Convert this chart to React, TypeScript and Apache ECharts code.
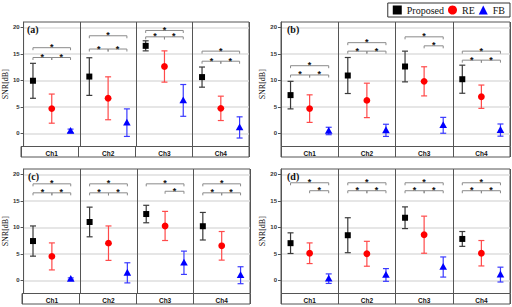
import React, { useEffect, useRef } from "react";
import * as echarts from "echarts";

const channels = ["Ch1", "Ch2", "Ch3", "Ch4"];
const panelLabels = ["(a)", "(b)", "(c)", "(d)"];
const seriesNames = ["Proposed", "RE", "FB"];
const yTicks = [0, 5, 10, 15, 20];

// per panel (a, b, c, d), per channel (Ch1..Ch4)
const proposedMean = [
  [9.9, 10.7, 16.5, 10.6],
  [7.2, 10.9, 12.6, 10.2],
  [7.4, 11.0, 12.5, 10.2],
  [7.0, 8.5, 11.8, 7.8],
];
const proposedErr = [
  [3.3, 3.55, 0.95, 1.9],
  [2.6, 3.4, 2.9, 2.65],
  [2.85, 2.8, 1.65, 2.6],
  [1.95, 3.3, 2.05, 1.4],
];
const reMean = [
  [4.65, 6.6, 12.6, 4.7],
  [4.65, 6.2, 9.8, 6.9],
  [4.5, 7.0, 10.25, 6.5],
  [5.1, 5.0, 8.6, 5.1],
];
const reErr = [
  [2.75, 4.05, 2.95, 2.3],
  [2.6, 3.25, 2.75, 2.2],
  [2.55, 3.25, 2.75, 2.7],
  [1.95, 2.35, 3.5, 2.4],
];
const fbMean = [
  [0.43, 2.0, 6.2, 1.1],
  [0.43, 0.55, 1.5, 0.6],
  [0.25, 1.4, 3.3, 0.95],
  [0.3, 1.0, 2.5, 1.07],
];
const fbErr = [
  [0.35, 2.6, 3.0, 2.0],
  [0.7, 1.15, 1.5, 1.15],
  [0.2, 1.9, 2.2, 1.6],
  [0.9, 1.2, 1.9, 1.4],
];
// significance brackets: [channel, level, fromSeries, toSeries]
const bracketsA = [
  [0, 16.15, 0, 2], [0, 14.3, 0, 1], [0, 14.3, 1, 2],
  [1, 18.4, 0, 2], [1, 15.9, 0, 1], [1, 15.9, 1, 2],
  [2, 19.4, 0, 2], [2, 18.2, 0, 1], [2, 18.2, 1, 2],
  [3, 15.5, 0, 2], [3, 13.6, 0, 1], [3, 13.6, 1, 2],
];
const bracketsB = [
  [0, 12.75, 0, 2], [0, 11.0, 0, 1], [0, 11.0, 1, 2],
  [1, 17.1, 0, 2], [1, 15.5, 0, 1], [1, 15.5, 1, 2],
  [2, 18.2, 0, 2], [2, 16.5, 1, 2],
  [3, 15.5, 0, 2], [3, 13.8, 0, 1], [3, 13.8, 1, 2],
];
const bracketsC = [
  [0, 18.2, 0, 2], [0, 16.5, 0, 1], [0, 16.5, 1, 2],
  [1, 18.2, 0, 2], [1, 16.5, 0, 1], [1, 16.5, 1, 2],
  [2, 18.2, 0, 2], [2, 16.8, 1, 2],
  [3, 18.2, 0, 2], [3, 16.5, 0, 1], [3, 16.5, 1, 2],
];
const bracketsD = [
  [0, 18.4, 0, 2], [0, 16.9, 1, 2],
  [1, 18.4, 0, 2], [1, 16.9, 0, 1], [1, 16.9, 1, 2],
  [2, 18.4, 0, 2], [2, 16.9, 0, 1], [2, 16.9, 1, 2],
  [3, 18.4, 0, 2], [3, 16.9, 0, 1], [3, 16.9, 1, 2],
];
const brackets = [bracketsA, bracketsB, bracketsC, bracketsD];

const Y_MIN = -2.5;
const Y_MAX = 21;
const panelBoxes = [
  { left: 21, top: 22, width: 228 },
  { left: 281, top: 22, width: 229 },
  { left: 22, top: 169, width: 228 },
  { left: 281, top: 169, width: 229 },
];
const DATA_H = 124.5;
const BAND_H = 10.5;

const markerColors = ["#000000", "#ff0000", "#0000ff"];
const barColors = ["#3a3a3a", "#ff4a4a", "#3a3aff"];
const slotOffsets = [-1 / 3, 0, 1 / 3];

function errRender(slot: number) {
  return (params: any, api: any) => {
    const idx = api.value(0);
    const m = api.value(1);
    const e = api.value(2);
    const c = api.coord([idx, m]);
    const bw = api.size([1, 0])[0];
    const x = c[0] + slotOffsets[slot] * bw;
    const y = c[1];
    const yt = api.coord([idx, m + e])[1];
    const yb = api.coord([idx, m - e])[1];
    const cap = 3;
    const ls = { stroke: barColors[slot], lineWidth: 1.2 };
    let marker: any;
    if (slot === 0) {
      marker = { type: "rect", shape: { x: x - 3, y: y - 3, width: 6, height: 6 }, style: { fill: markerColors[0] } };
    } else if (slot === 1) {
      marker = { type: "circle", shape: { cx: x, cy: y, r: 3.4 }, style: { fill: markerColors[1] } };
    } else {
      marker = {
        type: "polygon",
        shape: { points: [[x, y - 4], [x - 3.8, y + 2.8], [x + 3.8, y + 2.8]] },
        style: { fill: markerColors[2] },
      };
    }
    return {
      type: "group",
      children: [
        { type: "line", shape: { x1: x, y1: yt, x2: x, y2: yb }, style: ls },
        { type: "line", shape: { x1: x - cap, y1: yt, x2: x + cap, y2: yt }, style: ls },
        { type: "line", shape: { x1: x - cap, y1: yb, x2: x + cap, y2: yb }, style: ls },
        marker,
      ],
    };
  };
}

function bracketRender(params: any, api: any) {
  const ch = api.value(0);
  const lvl = api.value(1);
  const from = api.value(2);
  const to = api.value(3);
  const c = api.coord([ch, lvl]);
  const bw = api.size([1, 0])[0];
  const x1 = c[0] + slotOffsets[from] * bw;
  const x2 = c[0] + slotOffsets[to] * bw;
  const y = c[1];
  return {
    type: "group",
    children: [
      {
        type: "polyline",
        shape: { points: [[x1, y + 2.5], [x1, y], [x2, y], [x2, y + 2.5]] },
        style: { stroke: "#8a8a8a", lineWidth: 1, fill: null },
      },
      {
        type: "text",
        style: {
          text: "*",
          x: (x1 + x2) / 2,
          y: y - 0.5,
          align: "center",
          verticalAlign: "middle",
          fontSize: 9,
          fontWeight: "bold",
          fontFamily: "Liberation Sans",
          fill: "#111",
        },
      },
    ],
  };
}

export default function App() {
  const ref = useRef<HTMLDivElement>(null);
  useEffect(() => {
    document.body.style.margin = "0";
    const chart = echarts.init(ref.current!, null, { renderer: "svg" });
    const grids: any[] = [];
    const xAxes: any[] = [];
    const yAxes: any[] = [];
    const series: any[] = [];
    const titles: any[] = [];
    const means = [proposedMean, reMean, fbMean];
    const errs = [proposedErr, reErr, fbErr];

    panelBoxes.forEach((b, p) => {
      grids.push({ left: b.left, top: b.top, width: b.width, height: DATA_H, show: true, borderColor: "#555", borderWidth: 1 });
      grids.push({ left: b.left, top: b.top + DATA_H, width: b.width, height: BAND_H, show: true, borderColor: "#555", borderWidth: 1 });
      xAxes.push({
        type: "category",
        gridIndex: 2 * p,
        data: channels,
        boundaryGap: true,
        axisLine: { show: false },
        axisTick: { show: false },
        axisLabel: { show: true, interval: 0, margin: 3, fontSize: 6.5, fontWeight: "bold", color: "#111", fontFamily: "Liberation Sans" },
        splitLine: { show: true, interval: 0, lineStyle: { color: "#555", width: 1 } },
      });
      xAxes.push({
        type: "category",
        gridIndex: 2 * p + 1,
        data: channels,
        boundaryGap: true,
        axisLine: { show: false },
        axisTick: { show: false },
        axisLabel: { show: false },
        splitLine: { show: true, interval: 0, lineStyle: { color: "#555", width: 1 } },
      });
      yAxes.push({
        type: "value",
        gridIndex: 2 * p,
        min: Y_MIN,
        max: Y_MAX,
        name: "SNR[dB]",
        nameLocation: "middle",
        nameGap: 11,
        nameTextStyle: { fontFamily: "Liberation Serif", fontSize: 8, color: "#111" },
        axisLine: { show: true, lineStyle: { color: "#555" } },
        axisTick: { show: true, length: 3, customValues: yTicks, lineStyle: { color: "#555" } },
        axisLabel: { show: true, customValues: yTicks, margin: 4, fontSize: 6, fontWeight: "bold", color: "#333", fontFamily: "Liberation Sans" },
        splitLine: { show: true, lineStyle: { color: "#dedede", width: 1.5 } },
      });
      yAxes.push({ type: "value", gridIndex: 2 * p + 1, min: 0, max: 1, show: false });

      for (let s = 0; s < 3; s++) {
        series.push({
          type: "custom",
          name: seriesNames[s],
          xAxisIndex: 2 * p,
          yAxisIndex: 2 * p,
          itemStyle: { color: markerColors[s] },
          renderItem: errRender(s),
          encode: { x: 0, y: 1 },
          data: channels.map((_, i) => [i, means[s][p][i], errs[s][p][i]]),
          z: 5 - s,
        });
      }
      series.push({
        type: "custom",
        name: "sig",
        xAxisIndex: 2 * p,
        yAxisIndex: 2 * p,
        renderItem: bracketRender,
        encode: { x: 0, y: 1 },
        data: brackets[p],
      });
      titles.push({
        text: panelLabels[p],
        left: b.left + 6,
        top: b.top + 2,
        padding: 0,
        textStyle: { fontFamily: "Liberation Serif", fontWeight: "bold", fontSize: 10, color: "#111" },
      });
    });

    chart.setOption({
      animation: false,
      title: titles,
      legend: {
        right: 2,
        top: 3,
        orient: "horizontal",
        itemWidth: 9,
        itemHeight: 9,
        itemGap: 4,
        padding: [2, 5, 2, 5],
        borderColor: "#333",
        borderWidth: 1,
        borderRadius: 0,
        textStyle: { fontFamily: "Liberation Serif", fontSize: 10, color: "#111" },
        data: [
          { name: "Proposed", icon: "rect", itemStyle: { color: markerColors[0] } },
          { name: "RE", icon: "circle", itemStyle: { color: markerColors[1] } },
          { name: "FB", icon: "triangle", itemStyle: { color: markerColors[2] } },
        ],
      },
      grid: grids,
      xAxis: xAxes,
      yAxis: yAxes,
      series,
    });
    return () => chart.dispose();
  }, []);
  return (
    <div
      ref={ref}
      style={{ width: 512, height: 307, position: "fixed", left: 0, top: 0, background: "#fff" }}
    />
  );
}
